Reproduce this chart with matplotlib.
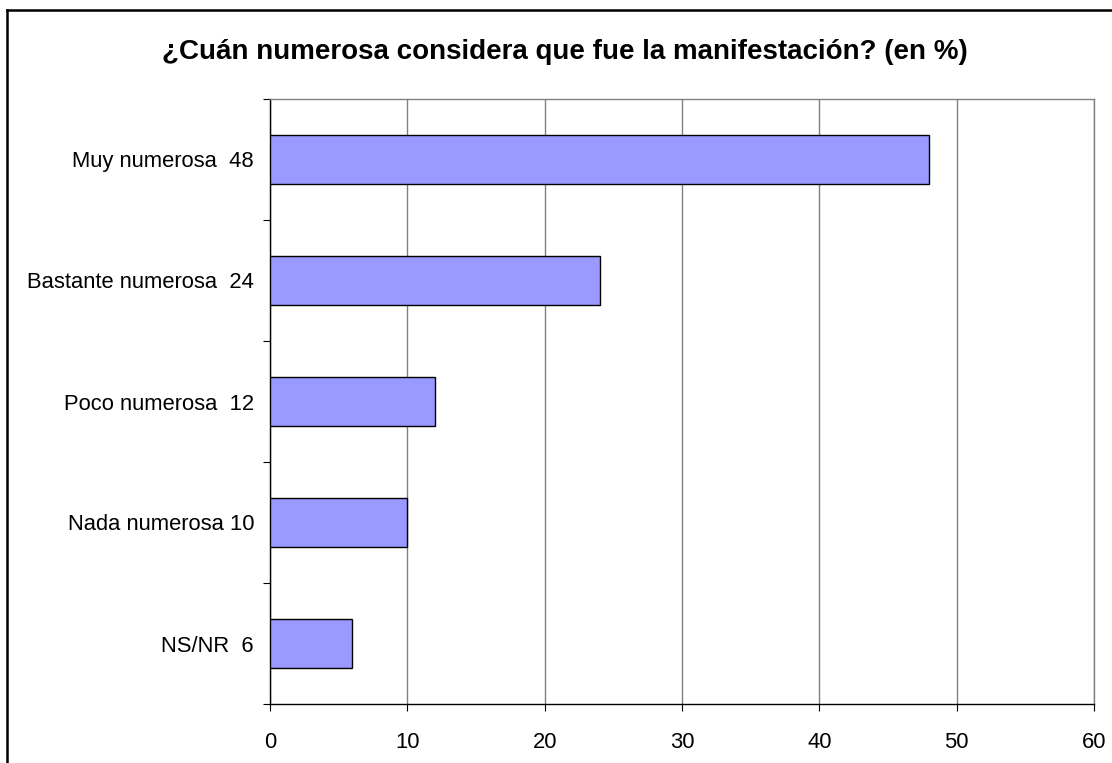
import matplotlib
matplotlib.use("Agg")
import matplotlib.pyplot as plt
from matplotlib.lines import Line2D
from matplotlib.ticker import FixedLocator

categories = ["Muy numerosa", "Bastante numerosa", "Poco numerosa", "Nada numerosa", "NS/NR"]
values = [48, 24, 12, 10, 6]
separators = ["  ", "  ", "  ", " ", "  "]
x_ticks = [0, 10, 20, 30, 40, 50, 60]
title = "¿Cuán numerosa considera que fue la manifestación? (en %)"

plt.rcParams["font.family"] = ["Liberation Sans", "DejaVu Sans"]

W, H = 1112, 763
fig = plt.figure(figsize=(W / 100, H / 100), dpi=100)
fig.patch.set_facecolor("white")

# outer frame (only left and top visible in the crop)
fig.add_artist(Line2D([7 / W, 7 / W], [0, 1 - 9.5 / H], transform=fig.transFigure,
                      color="black", linewidth=1.8))
fig.add_artist(Line2D([7 / W, 1], [1 - 9.5 / H, 1 - 9.5 / H], transform=fig.transFigure,
                      color="black", linewidth=1.8))

ax = fig.add_axes([270 / W, 1 - 704 / H, (1094 - 270) / W, (704 - 99) / H])

n = len(categories)
ypos = list(range(n))
ax.barh(ypos, values, height=0.4, color="#9999FF", edgecolor="black", linewidth=1.0, zorder=3)

ax.set_xlim(0, 60)
ax.set_ylim(n - 0.5, -0.5)
ax.set_xticks(x_ticks)
ax.set_xticklabels([str(t) for t in x_ticks], fontsize=15.8)
ax.set_yticks(ypos)
ax.set_yticklabels([f"{c}{s}{v}" for c, s, v in zip(categories, separators, values)], fontsize=15.8)
ax.yaxis.set_minor_locator(FixedLocator([i - 0.5 for i in range(n + 1)]))

ax.tick_params(axis="y", which="major", length=0, pad=11.5)
ax.tick_params(axis="y", which="minor", length=5, width=0.8, direction="out", color="black")
ax.tick_params(axis="x", which="major", length=5, width=0.8, direction="out", pad=15.5, color="black")

ax.grid(axis="x", color="#808080", linewidth=1.0, zorder=0)
for side in ["top", "right"]:
    ax.spines[side].set_color("#808080")
    ax.spines[side].set_linewidth(1.0)
for side in ["left", "bottom"]:
    ax.spines[side].set_color("black")
    ax.spines[side].set_linewidth(1.0)

fig.text(565 / W, 1 - 52 / H, title, ha="center", va="center",
         fontsize=20, fontweight="bold")

fig.savefig("out.png", dpi=100, facecolor="white")
